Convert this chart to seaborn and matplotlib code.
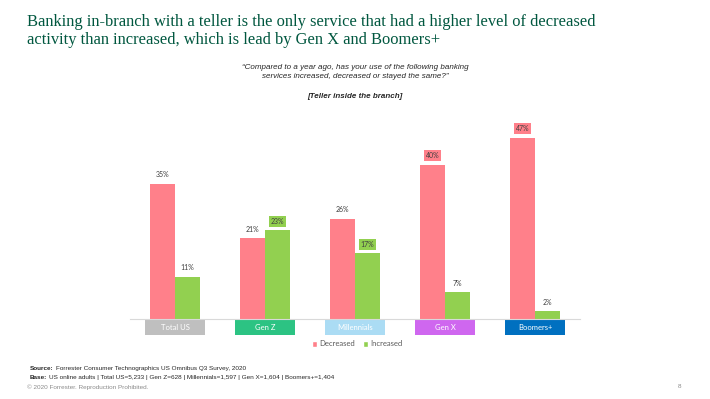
import pandas as pd
import matplotlib.pyplot as plt
import matplotlib.transforms as mtransforms
from matplotlib.patches import Rectangle
import seaborn as sns

# data
groups = ['Total US', 'Gen Z', 'Millennials', 'Gen X', 'Boomers+']
decreased = [35, 21, 26, 40, 47]
increased = [11, 23, 17, 7, 2]
group_colors = ['#bfbfbf', '#2cc383', '#abdcf4', '#cf67ef', '#0070c0']
# which labels get a highlight box
boxed_dec = [False, False, False, True, True]
boxed_inc = [False, True, True, False, False]

df = pd.DataFrame({
    'group': groups * 2,
    'series': ['Decreased'] * len(groups) + ['Increased'] * len(groups),
    'value': decreased + increased,
})

PINK = '#ff808a'
GREEN = '#92d050'

sns.set_theme(style="white")
plt.rcParams['font.family'] = ['Lato', 'DejaVu Sans']

fig = plt.figure(figsize=(7.1, 3.99), dpi=100)
ax = fig.add_axes([130 / 710, 1 - 319 / 399, 450 / 710, 193 / 399])

sns.barplot(data=df, x='group', y='value', hue='series', order=groups,
            hue_order=['Decreased', 'Increased'], palette=[PINK, GREEN],
            saturation=1, width=0.556, ax=ax, legend=False, edgecolor='none')

ax.set_xlim(-0.5, 4.5)
ax.set_ylim(0, 50)
ax.set_xticks([])
ax.set_yticks([])
ax.set_xlabel('')
ax.set_ylabel('')
for s in ['top', 'left', 'right']:
    ax.spines[s].set_visible(False)
ax.spines['bottom'].set_color('#d9d9d9')
ax.spines['bottom'].set_linewidth(0.8)

# value labels
off = 0.556 / 4
for i in range(len(groups)):
    for x, v, boxed, col in [(i - off, decreased[i], boxed_dec[i], PINK),
                             (i + off, increased[i], boxed_inc[i], GREEN)]:
        kw = {}
        if boxed:
            kw['bbox'] = dict(boxstyle='square,pad=0.25', facecolor=col,
                              edgecolor='none')
        ax.text(x, v + 1.4, f'{v}%', ha='center', va='bottom', fontsize=5,
                color='#404040', **kw)

# coloured category boxes under the axis
trans = mtransforms.blended_transform_factory(ax.transData, ax.transAxes)
box_h = 15 / 193
for i, (g, c) in enumerate(zip(groups, group_colors)):
    ax.add_patch(Rectangle((i - 0.333, -box_h - 0.004), 0.666, box_h,
                           transform=trans, facecolor=c, edgecolor='none',
                           clip_on=False))
    ax.text(i, -box_h / 2 - 0.004, g, transform=trans, ha='center',
            va='center', fontsize=5.5, color='white')

# legend
handles = [Rectangle((0, 0), 1, 1, facecolor=PINK),
           Rectangle((0, 0), 1, 1, facecolor=GREEN)]
fig.legend(handles, ['Decreased', 'Increased'], loc='center',
           bbox_to_anchor=(357 / 710, 1 - 344 / 399), ncol=2, frameon=False,
           fontsize=5.5, labelcolor='#595959', handlelength=0.7,
           handleheight=0.7, handletextpad=0.3, columnspacing=1.0)

# title and subtitle
fig.text(27 / 710, 1 - 14 / 399,
         'Banking in-branch with a teller is the only service that had a higher level of decreased\n'
         'activity than increased, which is lead by Gen X and Boomers+',
         ha='left', va='top', fontsize=11.9, color='#00573f',
         family=['Liberation Serif', 'DejaVu Serif'], linespacing=1.2)
fig.text(355 / 710, 1 - 72 / 399,
         '\u201cCompared to a year ago, has your use of the following banking\n'
         'services increased, decreased or stayed the same?\u201d',
         ha='center', va='center', fontsize=5.8, style='italic',
         color='#262626', family=['Liberation Sans', 'DejaVu Sans'],
         linespacing=1.35)
fig.text(355 / 710, 1 - 97 / 399, '[Teller inside the branch]',
         ha='center', va='center', fontsize=5.8, style='italic',
         weight='bold', color='#262626',
         family=['Liberation Sans', 'DejaVu Sans'])

# footer
foot = ['Liberation Sans', 'DejaVu Sans']
src = fig.text(30 / 710, 1 - 371 / 399, 'Source:', ha='left', va='bottom',
               fontsize=4.6, weight='bold', color='#262626', family=foot)
ax.annotate('Forrester Consumer Technographics US Omnibus Q3 Survey, 2020',
            xy=(1, 0), xycoords=src, xytext=(1.5, 0),
            textcoords='offset points', ha='left', va='bottom',
            fontsize=4.6, color='#262626', family=foot)
base = fig.text(30 / 710, 1 - 380 / 399, 'Base:', ha='left', va='bottom',
                fontsize=4.6, weight='bold', color='#262626', family=foot)
ax.annotate('US online adults | Total US=5,233 | Gen Z=628 | Millennials=1,597 | Gen X=1,604 | Boomers+=1,404',
            xy=(1, 0), xycoords=base, xytext=(1.5, 0),
            textcoords='offset points', ha='left', va='bottom',
            fontsize=4.6, color='#262626', family=foot)
fig.text(27 / 710, 1 - 387 / 399, '\u00a9 2020 Forrester. Reproduction Prohibited.',
         ha='left', va='center', fontsize=4.6, color='#8c8c8c', family=foot)
fig.text(681 / 710, 1 - 387 / 399, '8', ha='right', va='center',
         fontsize=4.6, color='#8c8c8c', family=foot)

fig.savefig('out.png', dpi=100)
